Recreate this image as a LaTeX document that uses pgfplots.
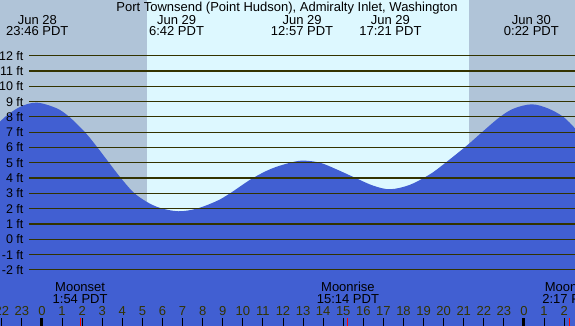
\documentclass[border=0pt]{standalone}
\usepackage{fontspec}
\setmainfont{Liberation Sans}
\usepackage{pgfplots}
\pgfplotsset{compat=1.18}
\definecolor{daycol}{RGB}{221,248,255}
\definecolor{nightcol}{RGB}{176,196,216}
\definecolor{tidecol}{RGB}{65,95,210}
\definecolor{linecol}{RGB}{51,51,0}
\definecolor{txtcol}{RGB}{51,51,0}
\newcommand{\chartfont}{\fontsize{13}{15}\selectfont}
\newcommand{\yfont}{\fontsize{12.5}{15}\selectfont}
\begin{document}
\begin{tikzpicture}[font=\chartfont]
\path[use as bounding box, clip] (0,0) rectangle (575pt,326pt);
\begin{axis}[at={(0,0)}, anchor=south west,
  width=575pt, height=326pt, scale only axis,
  xmin=-2.09, xmax=26.54, ymin=-5.67, ymax=15.64,
  axis line style={draw=none},
  axis background/.style={fill=daycol},
  axis on top,
  ytick=\empty,
  xtick={-2,...,26},
  xticklabels={22,23,0,1,2,3,4,5,6,7,8,9,10,11,12,13,14,15,16,17,18,19,20,21,22,23,0,1,2},
  xtick pos=left,
  major tick length=0pt,
  xticklabel style={anchor=base, yshift=10pt, inner sep=0pt, font=\chartfont, text=txtcol},
  every node/.append style={font=\chartfont, text=txtcol, inner sep=0pt},
]
% night shading
\addplot[fill=nightcol, draw=none] coordinates {(-2.2,-6) (5.23,-6) (5.23,16) (-2.2,16)};
\addplot[fill=nightcol, draw=none] coordinates {(21.26,-6) (26.7,-6) (26.7,16) (21.26,16)};
% tide
\addplot[fill=tidecol, draw=none, smooth, tension=0.55] coordinates {
(-4,-8) (-2.6,7.0) (-2.09,7.69) (-1.84,8.0) (-1.1,8.65) (-0.26,8.93) (0.73,8.56)
(1.36,8.0) (2.14,7.0) (2.69,6.12) (3.30,5.07) (3.88,4.08) (4.55,3.07) (5.21,2.45)
(5.88,2.05) (6.79,1.83) (7.70,2.0) (8.7,2.5) (9.36,3.0) (10.44,3.95) (11.4,4.6)
(12.35,5.0) (13.0,5.14) (13.85,5.0) (14.7,4.55) (15.59,4.02) (16.5,3.5) (17.33,3.27)
(18.3,3.55) (19.32,4.25) (20.07,4.98) (21.15,6.12) (21.98,7.08) (22.81,8.0)
(23.5,8.55) (24.39,8.82) (25.2,8.55) (25.96,8.0) (26.54,7.25) (27.0,6.6) (28.5,-8)};
% level lines and labels
\pgfplotsinvokeforeach{-2,...,12}{
  \addplot[linecol, line width=1.2pt] coordinates {(-0.647,#1) (26.7,#1)};
  \node[anchor=east, font=\yfont] at (axis cs:-0.747,#1) {#1 ft};
}
% hour ticks
\pgfplotsinvokeforeach{-2,...,26}{
  \addplot[black, line width=0.9pt] coordinates {(#1,-5.16) (#1,-5.8)};
}
% midnight and moon ticks
\addplot[black, line width=3pt] coordinates {(0,-5.16) (0,-5.8)};
\addplot[black, line width=3pt] coordinates {(24,-5.16) (24,-5.8)};
\addplot[red, line width=1pt] coordinates {(1.9,-5.16) (1.9,-5.8)};
\addplot[red, line width=1pt] coordinates {(15.233,-5.16) (15.233,-5.8)};
\addplot[red, line width=1pt] coordinates {(26.283,-5.16) (26.283,-5.8)};
% title
\node[anchor=base] at (axis cs:12.2,14.88) {Port Townsend (Point Hudson), Admiralty Inlet, Washington};
% tide extremes
\node[anchor=base] at (axis cs:-0.233,14.07) {Jun 28};
\node[anchor=base] at (axis cs:-0.233,13.29) {23:46 PDT};
\node[anchor=base] at (axis cs:6.7,14.07) {Jun 29};
\node[anchor=base] at (axis cs:6.7,13.29) {6:42 PDT};
\node[anchor=base] at (axis cs:12.95,14.07) {Jun 29};
\node[anchor=base] at (axis cs:12.95,13.29) {12:57 PDT};
\node[anchor=base] at (axis cs:17.35,14.07) {Jun 29};
\node[anchor=base] at (axis cs:17.35,13.29) {17:21 PDT};
\node[anchor=base] at (axis cs:24.367,14.07) {Jun 30};
\node[anchor=base] at (axis cs:24.367,13.29) {0:22 PDT};
% moon events
\node[anchor=base] at (axis cs:1.9,-3.42) {Moonset};
\node[anchor=base] at (axis cs:1.9,-4.23) {1:54 PDT};
\node[anchor=base] at (axis cs:15.233,-3.42) {Moonrise};
\node[anchor=base] at (axis cs:15.233,-4.23) {15:14 PDT};
\node[anchor=base] at (axis cs:26.283,-3.42) {Moonset};
\node[anchor=base] at (axis cs:26.283,-4.23) {2:17 PDT};
\end{axis}
\end{tikzpicture}
\end{document}
